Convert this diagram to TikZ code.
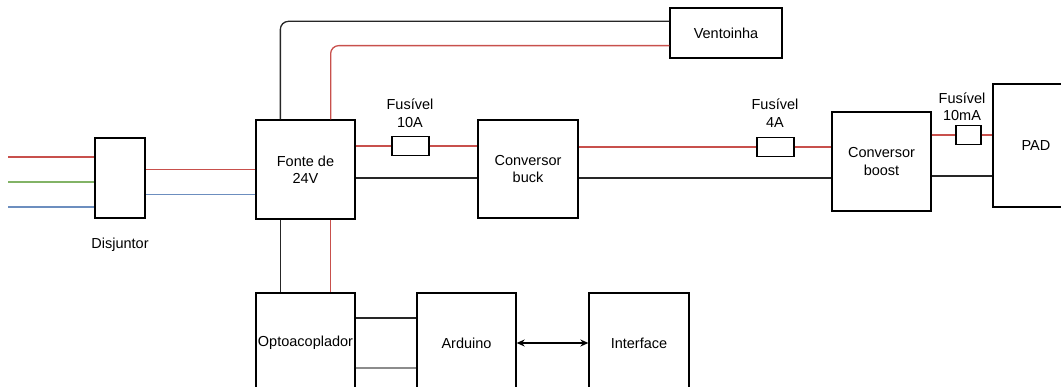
\documentclass[tikz,border=0pt]{standalone}
\usepackage{fontspec}
\setmainfont{Liberation Sans}
\usetikzlibrary{arrows.meta}
\definecolor{fiovermelho}{HTML}{C8504C}
\definecolor{fioverde}{HTML}{82B366}
\definecolor{fioazul}{HTML}{6C8EBF}
\begin{document}
\begin{tikzpicture}[x=1pt,y=-1pt,line width=1.3pt,
		font=\fontsize{14.5}{17.5}\selectfont,
		bloco/.style n args={2}{draw,line width=1.3pt,inner sep=0pt,align=center,minimum width=#1,minimum height=#2},
		fusivel/.style={draw,line width=1.3pt,inner sep=0pt,minimum width=#1,minimum height=19pt},
		rotulo/.style={inner sep=0pt,align=center},
		fase/.style={fiovermelho},
		neutro/.style={black!85}]
		\useasboundingbox (0,0) rectangle (1061,387);
		\clip (0,0) rectangle (1061,387);
		% Blocos
		\node[bloco={50pt}{80pt}] (disj) at (120,178) {};
		\node[rotulo] (disjtxt) at (120,245) {Disjuntor};
		\node[bloco={99pt}{99pt}] (fonte) at (305.5,169.5) {Fonte de\\24V};
		\node[bloco={112pt}{50pt}] (vent) at (726,33) {Ventoinha};
		\node[bloco={100pt}{98pt}] (buck) at (528,169) {Conversor\\buck};
		\node[bloco={99pt}{99pt}] (boost) at (881.5,161.5) {Conversor\\boost};
		\node[bloco={86pt}{123pt}] (pad) at (1036,145.5) {PAD};
		\node[bloco={99pt}{100pt}] (opto) at (305.5,343) {Optoacoplador};
		\node[bloco={99pt}{100pt}] (ard) at (466.5,343) {Arduino};
		\node[bloco={100pt}{100pt}] (inter) at (639,343) {Interface};
		% Fusíveis
		\node[fusivel=37pt] (fus1) at (410.5,146) {};
		\node[rotulo] (fus1txt) at (410,113) {Fusível\\10A};
		\node[fusivel=37pt] (fus2) at (775.5,147) {};
		\node[rotulo] (fus2txt) at (775,113) {Fusível\\4A};
		\node[fusivel=25pt] (fus3) at (968.5,135) {};
		\node[rotulo] (fus3txt) at (962,106.5) {Fusível\\10mA};
		% Entrada da rede
		\coordinate (entR) at (8,157);
		\coordinate (entG) at (8,182);
		\coordinate (entB) at (8,207);
		\draw[fase] (entR) -- (entR -| disj.west);
		\draw[fioverde] (entG) -- (entG -| disj.west);
		\draw[fioazul] (entB) -- (entB -| disj.west);
		\draw[fase] (fonte.west) -- (fonte.west -| disj.east);
		\draw[fioazul] ([yshift=-25pt]fonte.west) -- ([yshift=-25pt]fonte.west -| disj.east);
		% Ventoinha
		\draw[neutro,rounded corners=8pt] ([xshift=25pt]fonte.north west) |- ([yshift=-14pt]vent.north west);
		\draw[fase,rounded corners=8pt] ([xshift=-25pt]fonte.north east) |- ([yshift=13pt]vent.south west);
		% Fonte -> buck -> boost -> PAD
		\draw[fase] (fonte.east |- fus1) -- (fus1.west);
		\draw[fase] (fus1.east) -- (fus1 -| buck.west);
		\draw[neutro] ([yshift=-8.5pt]fonte.east) -- ([yshift=-8.5pt]fonte.east -| buck.west);
		\draw[fase] (buck.east |- fus2) -- (fus2.west);
		\draw[fase] (fus2.east) -- (fus2 -| boost.west);
		\draw[neutro] ([yshift=-9pt]buck.east) -- ([yshift=-9pt]buck.east -| boost.west);
		\draw[fase] (boost.east |- fus3) -- (fus3.west);
		\draw[fase] (fus3.east) -- (fus3 -| pad.west);
		\draw[neutro] ([yshift=-14.5pt]boost.east) -- ([yshift=-14.5pt]boost.east -| pad.west);
		% Fonte -> optoacoplador -> Arduino
		\draw[neutro] ([xshift=25pt]fonte.south west) -- ([xshift=25pt]opto.north west);
		\draw[fase] ([xshift=-25pt]fonte.south east) -- ([xshift=-25pt]opto.north east);
		\draw[neutro] ([yshift=25pt]opto.east) -- ([yshift=25pt]opto.east -| ard.west);
		\draw[black!45] ([yshift=-25pt]opto.east) -- ([yshift=-25pt]opto.east -| ard.west);
		\draw[{Stealth[length=8pt,width=7pt]}-{Stealth[length=8pt,width=7pt]}] (ard) -- (inter);
	\end{tikzpicture}
\end{document}
